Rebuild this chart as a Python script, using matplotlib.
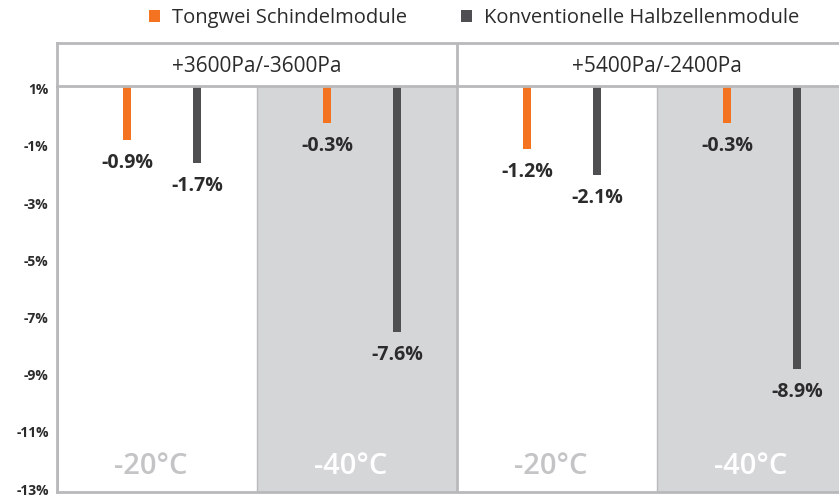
import matplotlib
matplotlib.use("Agg")
import matplotlib.pyplot as plt
import matplotlib.transforms as mtransforms
from matplotlib.patches import Rectangle

# Data
load_cases = ["+3600Pa/-3600Pa", "+5400Pa/-2400Pa"]
temperatures = ["-20°C", "-40°C", "-20°C", "-40°C"]
series_names = ["Tongwei Schindelmodule", "Konventionelle Halbzellenmodule"]
tongwei = [-0.9, -0.3, -1.2, -0.3]
conventional = [-1.7, -7.6, -2.1, -8.9]
ytick_values = [1, -1, -3, -5, -7, -9, -11, -13]
ytick_labels = ["1%", "-1%", "-3%", "-5%", "-7%", "-9%", "-11%", "-13%"]

ORANGE = "#f47321"
DARK = "#4f4f51"
SHADE = "#d5d6d8"
LINE = "#b9b9bb"
TEXT = "#2b2b2b"

plt.rcParams["font.family"] = ["Open Sans", "DejaVu Sans"]

W, H = 839, 496
fig = plt.figure(figsize=(W / 100, H / 100), dpi=100)

left_px, right_px = 57, 857
top_px, bottom_px = 86, 492
header_top_px = 43

ax = fig.add_axes([left_px / W, (H - bottom_px) / H,
                   (right_px - left_px) / W, (bottom_px - top_px) / H])
hax = fig.add_axes([left_px / W, (H - top_px) / H,
                    (right_px - left_px) / W, (top_px - header_top_px) / H])

y_top, y_bottom = 1.0, -13.2
n = len(temperatures)
ax.set_xlim(0, n)
ax.set_ylim(y_bottom, y_top)

# shaded -40°C columns and temperature captions
for i, t in enumerate(temperatures):
    if i % 2 == 1:
        ax.add_patch(Rectangle((i, y_bottom), 1, y_top - y_bottom,
                               facecolor=SHADE, edgecolor="none", zorder=0))
    ax.axvline(i, color=LINE, lw=1.0 if i % 2 else 2.0, zorder=1)
    color = "#c4c4c6" if i % 2 == 0 else "white"
    ax.text(i + 0.47, -12.3, t, ha="center", va="center", fontsize=21,
            fontweight="semibold", color=color, zorder=2)

off_a, off_b = 0.35, 0.70
bar_w = 0.043
xa = [i + off_a for i in range(n)]
xb = [i + off_b for i in range(n)]
ax.bar(xa, [v - y_top for v in tongwei], bottom=y_top, width=bar_w,
       color=ORANGE, zorder=3, label=series_names[0])
ax.bar(xb, [v - y_top for v in conventional], bottom=y_top, width=bar_w,
       color=DARK, zorder=3, label=series_names[1])

for x, v in list(zip(xa, tongwei)) + list(zip(xb, conventional)):
    ax.annotate(f"{v:.1f}%", (x, v), xytext=(0, -16.5), textcoords="offset points",
                ha="center", va="center", fontsize=14, fontweight="bold",
                color=TEXT, zorder=4)

ax.set_yticks(ytick_values)
ax.set_yticklabels(ytick_labels)
ax.tick_params(axis="y", length=0, pad=6, labelsize=10, labelcolor=TEXT)
shift = mtransforms.ScaledTranslation(0, -2 / 72, fig.dpi_scale_trans)
for lab in ax.get_yticklabels():
    lab.set_fontweight("bold")
    lab.set_transform(lab.get_transform() + shift)
ax.set_xticks([])
for side in ["top", "right"]:
    ax.spines[side].set_visible(False)
ax.spines["left"].set_color(LINE)
ax.spines["left"].set_linewidth(2)
ax.spines["bottom"].set_color(LINE)
ax.spines["bottom"].set_linewidth(2)

# header row with load case names
hax.set_xlim(0, n)
hax.set_ylim(0, 1)
hax.set_xticks([])
hax.set_yticks([])
hax.spines["right"].set_visible(False)
for side in ["top", "bottom", "left"]:
    hax.spines[side].set_color(LINE)
    hax.spines[side].set_linewidth(2)
for j, name in enumerate(load_cases):
    hax.text(2 * j + 1, 0.45, name, ha="center", va="center", fontsize=15,
             color=TEXT)
    if j > 0:
        hax.axvline(2 * j, color=LINE, lw=2)

leg = fig.legend(loc="center", bbox_to_anchor=(474 / W, 1 - 18 / H), ncol=2,
                 frameon=False, fontsize=14.5, handlelength=0.55,
                 handleheight=0.55, columnspacing=2.7, handletextpad=0.6)
for t in leg.get_texts():
    t.set_color(TEXT)

fig.savefig("out.png", dpi=100)
